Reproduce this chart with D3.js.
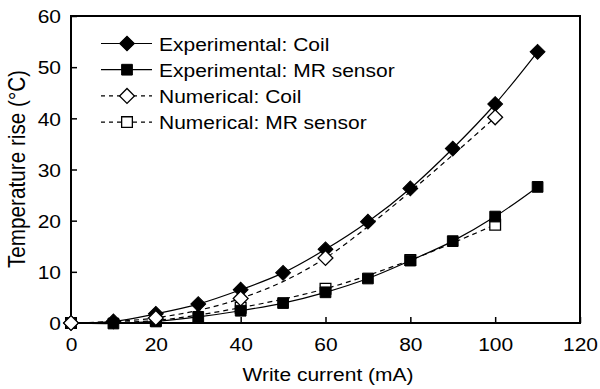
<html>
<head>
  <meta charset="utf-8">
  <script src="https://d3js.org/d3.v7.min.js"></script>
  <style>
    body { margin: 0; background: white; }
    text { font-family: "Liberation Sans", Arial, sans-serif; fill: black; }
  </style>
</head>
<body>
  <svg id="chart" width="600" height="389"></svg>
  <script>
    // data
    var expCurrent  = [0, 10, 20, 30, 40, 50, 60, 70, 80, 90, 100, 110];
    var expCoil     = [0, 0.3, 1.8, 3.7, 6.5, 9.8, 14.4, 19.8, 26.3, 34.1, 42.8, 53.0];
    var expMR       = [0, -0.1, 0.3, 1.2, 2.4, 3.9, 6.0, 8.7, 12.2, 16.0, 20.8, 26.6];
    var numCurrent  = [0, 20, 40, 60, 80, 100];
    var numCoil     = [0, 1.0, 4.8, 12.7, null, 40.2];
    var numMR       = [0, 0.5, 3.0, 6.7, 12.3, 19.2];
    var xTicks = [0, 20, 40, 60, 80, 100, 120];
    var yTicks = [0, 10, 20, 30, 40, 50, 60];

    var series = [
      { name: "Experimental: Coil",      xs: expCurrent, ys: expCoil, shape: "diamond", filled: true,  dashed: false },
      { name: "Experimental: MR sensor", xs: expCurrent, ys: expMR,   shape: "square",  filled: true,  dashed: false },
      { name: "Numerical: Coil",         xs: numCurrent, ys: numCoil, shape: "diamond", filled: false, dashed: true },
      { name: "Numerical: MR sensor",    xs: numCurrent, ys: numMR,   shape: "square",  filled: false, dashed: true }
    ];

    var FS = 21, SQ = 0.9;   // text is a bit squashed vertically in the original

    function makeChart() {
      var svg = d3.select( "#chart" );
      var left = 71, right = 580, top = 16, bottom = 323;

      var scX = d3.scaleLinear().domain( [0, 120] ).range( [left, right] );
      var scY = d3.scaleLinear().domain( [0, 60] ).range( [bottom, top] );

      // axes, ticks pointing inward
      svg.append( "g" ).attr( "transform", "translate(0," + bottom + ")" )
          .call( d3.axisBottom( scX ).tickValues( xTicks ).tickSize( -6 ) )
          .call( g => g.select( ".domain" ).remove() )
          .call( g => g.selectAll( "text" ).attr( "font-size", FS ).attr( "font-family", null )
              .attr( "y", 28 / SQ ).attr( "dy", null ).attr( "transform", "scale(1," + SQ + ")" ) )
          .call( g => g.selectAll( "line" ).attr( "stroke-width", 1.5 ) );

      svg.append( "g" ).attr( "transform", "translate(" + left + ",0)" )
          .call( d3.axisLeft( scY ).tickValues( yTicks ).tickSize( -6 ) )
          .call( g => g.select( ".domain" ).remove() )
          .call( g => g.selectAll( "text" ).attr( "font-size", FS ).attr( "font-family", null )
              .attr( "x", -10 ).attr( "dy", "0.36em" ).attr( "transform", "scale(1," + SQ + ")" ) )
          .call( g => g.selectAll( "line" ).attr( "stroke-width", 1.5 ) );

      svg.append( "rect" ).attr( "x", left ).attr( "y", top )
          .attr( "width", right - left ).attr( "height", bottom - top )
          .attr( "fill", "none" ).attr( "stroke", "black" ).attr( "stroke-width", 2 );

      var line = d3.line()
          .x( d => scX( d[0] ) ).y( d => scY( d[1] ) )
          .curve( d3.curveCatmullRom );

      var symDiamond = d3.symbol().type( d3.symbolSquare ).size( 110 );
      var symSquare = d3.symbol().type( d3.symbolSquare ).size( 115 );

      function marker( g, s, x, y ) {
        g.append( "path" )
            .attr( "d", s.shape == "diamond" ? symDiamond() : symSquare() )
            .attr( "fill", s.filled ? "black" : "white" )
            .attr( "stroke", "black" ).attr( "stroke-width", s.filled ? 1 : 1.3 )
            .attr( "transform", "translate(" + x + "," + y + ")" + ( s.shape == "diamond" ? " rotate(45)" : "" ) );
      }

      // stacking as in the original: open squares under filled squares, open diamonds on top
      var order = [ series[3], series[1], series[0], series[2] ];
      order.forEach( function( s ) {
        var pts = s.xs.map( (x, i) => [x, s.ys[i]] ).filter( d => d[1] != null );
        svg.append( "path" ).datum( pts ).attr( "d", line )
            .attr( "fill", "none" ).attr( "stroke", "black" ).attr( "stroke-width", 1.2 )
            .attr( "stroke-dasharray", s.dashed ? "5,4" : null );
      } );
      order.forEach( function( s ) {
        var g = svg.append( "g" );
        s.xs.forEach( function( x, i ) {
          if( s.ys[i] != null ) marker( g, s, scX( x ), scY( s.ys[i] ) );
        } );
      } );

      // legend
      var lg = svg.append( "g" );
      series.forEach( function( s, i ) {
        var y = 43.5 + i * 26.2;
        lg.append( "line" ).attr( "x1", 101 ).attr( "x2", 152 ).attr( "y1", y ).attr( "y2", y )
            .attr( "stroke", "black" ).attr( "stroke-width", 1.2 )
            .attr( "stroke-dasharray", s.dashed ? "4,4" : null );
        marker( lg, s, 127, y );
        lg.append( "text" ).attr( "transform", "translate(159," + ( y + 7 ) + ") scale(1," + SQ + ")" )
            .attr( "font-size", FS ).text( s.name );
      } );

      // axis titles
      svg.append( "text" ).attr( "transform", "translate(" + 328 + ",381) scale(1," + SQ + ")" )
          .attr( "text-anchor", "middle" ).attr( "font-size", FS ).text( "Write current (mA)" );
      svg.append( "text" ).attr( "transform", "translate(25,169) rotate(-90) scale(0.9,1)" )
          .attr( "text-anchor", "middle" ).attr( "font-size", 23 ).text( "Temperature rise (°C)" );
    }
    makeChart();
  </script>
</body>
</html>
